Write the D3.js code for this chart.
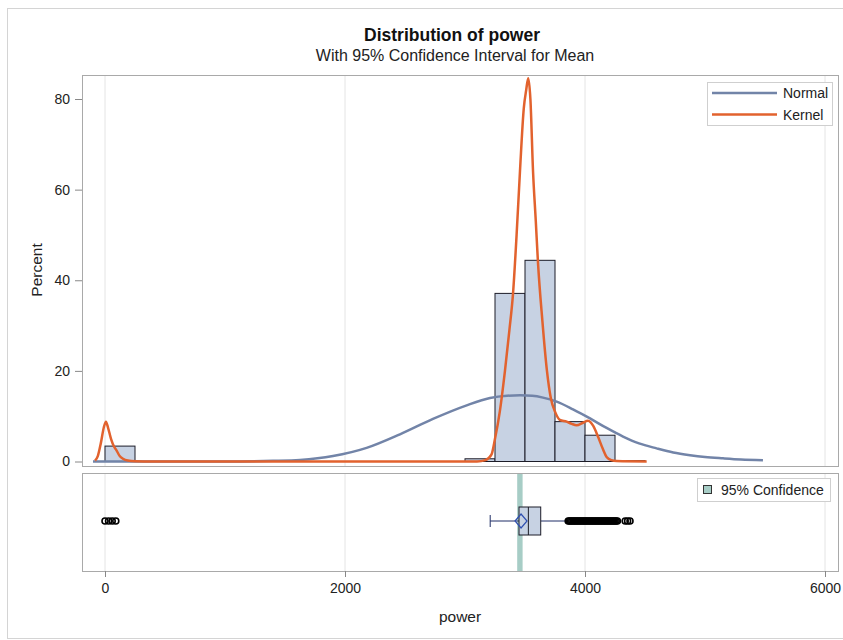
<!DOCTYPE html>
<html><head><meta charset="utf-8">
<script src="https://cdn.jsdelivr.net/npm/d3@7"></script>
<style>body{margin:0;background:#fff;} text{font-family:"Liberation Sans",Arial,sans-serif;}</style>
</head><body>
<svg id="c" width="843" height="640"></svg>
<script>
// ---------- data ----------
const xTicks = [0, 2000, 4000, 6000];
const yTicks = [0, 20, 40, 60, 80];
const binStarts = [0, 3000, 3250, 3500, 3750, 4000, 4250];
const binWidth = 250;
const binPercents = [3.4, 0.6, 37.1, 44.4, 8.8, 5.8, 0.2];
const normalX = [-100, 1000, 1400, 1625, 1900, 2180, 2458, 2733, 3014, 3208, 3350, 3460, 3560, 3650, 3764, 3900, 4042, 4180, 4317, 4450, 4597, 4735, 4875, 5000, 5150, 5300, 5483];
const normalY = [0, 0.02, 0.15, 0.35, 1.2, 3.0, 6.0, 9.4, 12.4, 14.0, 14.5, 14.6, 14.5, 14.1, 13.2, 11.5, 9.5, 7.4, 5.5, 4.0, 2.9, 2.0, 1.4, 1.0, 0.7, 0.45, 0.3];
const kernelX = [-83, -60, -35, -10, 8, 25, 50, 75, 97, 120, 150, 190, 250, 400, 3100, 3170, 3220, 3250, 3290, 3333, 3370, 3400, 3430, 3458, 3490, 3510, 3527, 3545, 3567, 3590, 3608, 3645, 3683, 3715, 3750, 3790, 3847, 3890, 3930, 3980, 4025, 4070, 4108, 4150, 4180, 4220, 4264, 4514];
const kernelY = [0.2, 1.2, 4, 7.5, 8.8, 7.5, 5, 3.3, 2.4, 1.3, 0.6, 0.2, 0.05, 0, 0, 0.3, 1.5, 5, 11, 20, 29, 37, 50, 64, 78, 82, 84.6, 80, 64, 53, 44, 31, 20, 14, 11, 9.2, 8.8, 8.3, 8, 8.5, 9, 7.8, 5.5, 2.7, 1, 0.3, 0.1, 0];
const boxStats = {whiskerLow: 3210, q1: 3450, median: 3528, q3: 3631, whiskerHigh: 3858, mean: 3467};
const ciMean = [3435, 3480];
const outliers = [0, 30, 60, 90,
  3860, 3870, 3880, 3890, 3900, 3910, 3920, 3930, 3940, 3950, 3960, 3970, 3980, 3990, 4000,
  4010, 4020, 4030, 4040, 4050, 4060, 4070, 4080, 4090, 4100, 4110, 4120, 4130, 4140, 4150,
  4160, 4170, 4180, 4190, 4200, 4210, 4220, 4230, 4240, 4250, 4260, 4270,
  4335, 4355, 4375];
const legendTop = ["Normal", "Kernel"];
const legendBottom = ["95% Confidence"];

// ---------- layout ----------
const svg = d3.select("#c");
const L = 82, R = 838, T1 = 75, B1 = 466, T2 = 473, B2 = 571;
const cNormal = "#7284a8", cKernel = "#e2622e", cBar = "#c7d2e3", cGrid = "#e4e4e4", cFrame = "#a9a9a9";

svg.append("rect").attr("x", 7.5).attr("y", 8.5).attr("width", 840).attr("height", 630)
  .attr("fill", "#fff").attr("stroke", "#d4d4d4");

const x = d3.scaleLinear().domain([0, 6000]).range([105, 825]);
const y = d3.scaleLinear().domain([0, 80]).range([461.5, 99]);

// gridlines
[[T1, B1], [T2, B2]].forEach(([t, b]) => {
  svg.append("g").selectAll("line").data(xTicks).join("line")
    .attr("x1", d => x(d)).attr("x2", d => x(d)).attr("y1", t).attr("y2", b)
    .attr("stroke", cGrid).attr("stroke-width", 1);
});

// histogram
svg.append("g").selectAll("rect").data(binStarts).join("rect")
  .attr("x", d => x(d)).attr("width", d => x(d + binWidth) - x(d))
  .attr("y", (d, i) => y(binPercents[i])).attr("height", (d, i) => y(0) - y(binPercents[i]))
  .attr("fill", cBar).attr("stroke", "#1c1c28").attr("stroke-width", 1);

// curves
const line = d3.line().x(d => x(d[0])).y(d => y(d[1])).curve(d3.curveMonotoneX);
svg.append("path").datum(normalX.map((v, i) => [v, normalY[i]]))
  .attr("d", line).attr("fill", "none").attr("stroke", cNormal).attr("stroke-width", 2.5);
svg.append("path").datum(kernelX.map((v, i) => [v, kernelY[i]]))
  .attr("d", line).attr("fill", "none").attr("stroke", cKernel).attr("stroke-width", 2.5);

// frames
svg.append("rect").attr("x", L + 0.5).attr("y", T1 + 0.5).attr("width", R - L).attr("height", B1 - T1)
  .attr("fill", "none").attr("stroke", cFrame);
svg.append("rect").attr("x", L + 0.5).attr("y", T2 + 0.5).attr("width", R - L).attr("height", B2 - T2)
  .attr("fill", "none").attr("stroke", cFrame);

// y axis
const yAxis = d3.axisLeft(y).tickValues(yTicks).tickSize(7).tickPadding(5);
const gy = svg.append("g").attr("transform", `translate(${L},0)`).call(yAxis);
gy.select(".domain").remove();
gy.selectAll("line").attr("stroke", "#888");
gy.selectAll("text").attr("font-size", 14).attr("fill", "#222");
svg.append("text").attr("transform", "translate(42,270) rotate(-90)").attr("text-anchor", "middle")
  .attr("font-size", 15.5).attr("fill", "#222").text("Percent");

// x axis
const xAxis = d3.axisBottom(x).tickValues(xTicks).tickSize(6).tickPadding(6).tickFormat(d3.format("d"));
const gx = svg.append("g").attr("transform", `translate(0,${B2})`).call(xAxis);
gx.select(".domain").remove();
gx.selectAll("line").attr("stroke", "#888");
gx.selectAll("text").attr("font-size", 14).attr("fill", "#222");
svg.append("text").attr("x", 460).attr("y", 622).attr("text-anchor", "middle")
  .attr("font-size", 15.5).attr("fill", "#222").text("power");

// CI band
svg.append("rect").attr("x", x(ciMean[0])).attr("width", x(ciMean[1]) - x(ciMean[0]))
  .attr("y", T2 + 1).attr("height", B2 - T2 - 1).attr("fill", "#a7cdc6");

// box plot
const yc = 521, bh = 28;
const cBox = "#1f2d66";
svg.append("line").attr("x1", x(boxStats.whiskerLow)).attr("x2", x(boxStats.q1)).attr("y1", yc).attr("y2", yc).attr("stroke", cBox);
svg.append("line").attr("x1", x(boxStats.q3)).attr("x2", x(boxStats.whiskerHigh)).attr("y1", yc).attr("y2", yc).attr("stroke", cBox);
svg.append("line").attr("x1", x(boxStats.whiskerLow)).attr("x2", x(boxStats.whiskerLow)).attr("y1", yc - 6).attr("y2", yc + 6).attr("stroke", cBox);
svg.append("rect").attr("x", x(boxStats.q1)).attr("width", x(boxStats.q3) - x(boxStats.q1))
  .attr("y", yc - bh / 2).attr("height", bh).attr("fill", cBar).attr("stroke", "#1c1c28");
svg.append("line").attr("x1", x(boxStats.median)).attr("x2", x(boxStats.median)).attr("y1", yc - bh / 2).attr("y2", yc + bh / 2).attr("stroke", "#1c1c28");
const mx = x(boxStats.mean);
svg.append("path").attr("d", `M${mx - 6},${yc} L${mx},${yc - 7} L${mx + 6},${yc} L${mx},${yc + 7} Z`)
  .attr("fill", "none").attr("stroke", "#2f4fb0").attr("stroke-width", 1.2);

// outliers
svg.append("g").selectAll("circle").data(outliers).join("circle")
  .attr("cx", d => x(d)).attr("cy", yc).attr("r", 3)
  .attr("fill", "none").attr("stroke", "#000").attr("stroke-width", 1.6);

// legends
svg.append("rect").attr("x", 707.5).attr("y", 82.5).attr("width", 125).attr("height", 43)
  .attr("fill", "#fff").attr("stroke", "#cfcfcf");
legendTop.forEach((name, i) => {
  const yy = 93 + i * 21.5;
  svg.append("line").attr("x1", 712).attr("x2", 777).attr("y1", yy).attr("y2", yy)
    .attr("stroke", i === 0 ? cNormal : cKernel).attr("stroke-width", 2.5);
  svg.append("text").attr("x", 783).attr("y", yy + 5).attr("font-size", 14).attr("fill", "#222").text(name);
});
svg.append("rect").attr("x", 697.5).attr("y", 478.5).attr("width", 133).attr("height", 23)
  .attr("fill", "#fff").attr("stroke", "#cfcfcf");
svg.append("rect").attr("x", 703.5).attr("y", 485.5).attr("width", 8).attr("height", 8)
  .attr("fill", "#a7cdc6").attr("stroke", "#333");
svg.append("text").attr("x", 721).attr("y", 495).attr("font-size", 14).attr("fill", "#222").text(legendBottom[0]);

// titles
svg.append("text").attr("x", 452).attr("y", 41).attr("text-anchor", "middle")
  .attr("font-size", 17.5).attr("font-weight", "bold").attr("fill", "#111").text("Distribution of power");
svg.append("text").attr("x", 455).attr("y", 61).attr("text-anchor", "middle")
  .attr("font-size", 16).attr("fill", "#222").text("With 95% Confidence Interval for Mean");
</script>
</body></html>
